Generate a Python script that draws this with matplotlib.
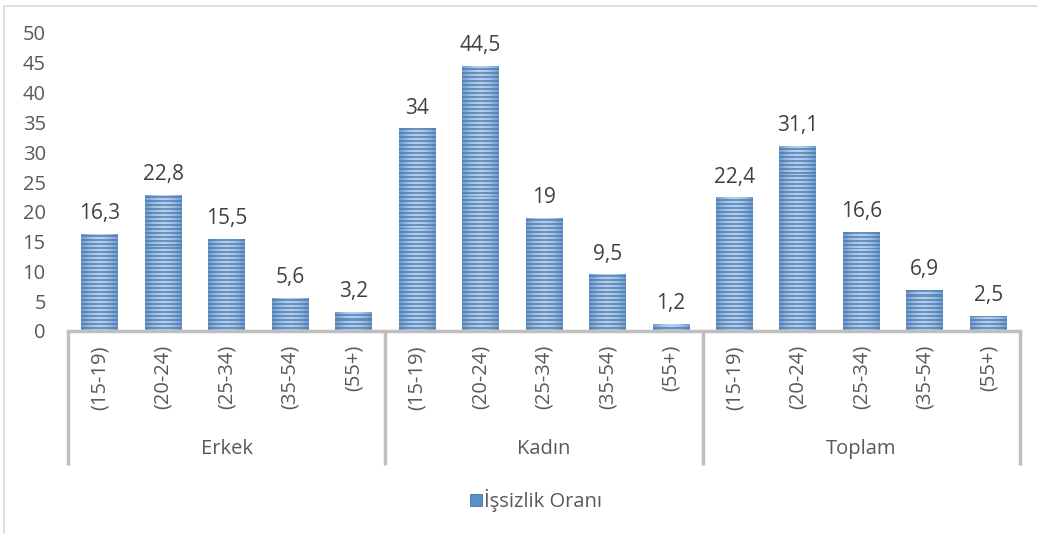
import numpy as np
import matplotlib.pyplot as plt
from matplotlib.patches import Rectangle
import matplotlib.transforms as mtransforms

plt.rcParams['font.family'] = ['Open Sans', 'DejaVu Sans']

groups = ["Erkek", "Kadın", "Toplam"]
age_bands = ["(15-19)", "(20-24)", "(25-34)", "(35-54)", "(55+)"]
erkek = [16.3, 22.8, 15.5, 5.6, 3.2]
kadin = [34, 44.5, 19, 9.5, 1.2]
toplam = [22.4, 31.1, 16.6, 6.9, 2.5]
series_name = "İşsizlik Oranı"

values = erkek + kadin + toplam
labels = age_bands * len(groups)
x = np.arange(len(values))


def stripe_pattern(rows=300, cols=40):
    # horizontal stripes with a light band through the middle of the bar
    col = np.linspace(-1, 1, cols)
    shade = 1 - 0.55 * np.abs(col) ** 1.6
    dark = np.array([0.24, 0.45, 0.68])
    light = np.array([0.80, 0.88, 0.97])
    img = np.zeros((rows, cols, 3))
    for r in range(rows):
        k = 0.3 if r % 4 in (0, 1) else 0.85
        mix = k * shade
        img[r] = dark[None, :] * (1 - mix[:, None]) + light[None, :] * mix[:, None]
    return img


fig = plt.figure(figsize=(10.37, 5.34), dpi=100)
ax = fig.add_axes([68 / 1037, (534 - 331) / 534, (1020 - 68) / 1037, 298 / 534])

width = 0.58
bars = ax.bar(x, values, width=width, color="#5b8fc9", edgecolor="none")
pattern = stripe_pattern()
for b in bars:
    im = ax.imshow(pattern, extent=(b.get_x(), b.get_x() + width, 0, 50),
                   aspect='auto', interpolation='nearest', zorder=2)
    im.set_clip_path(b)

for xi, v in zip(x, values):
    txt = f"{v:g}".replace(".", ",")
    ax.annotate(txt, (xi, v), xytext=(0, 7), textcoords="offset points",
                ha="center", va="bottom", fontsize=15, color="#404040")

ax.set_xlim(-0.5, len(values) - 0.5)
ax.set_ylim(0, 50)
ax.set_yticks(range(0, 51, 5))
ax.tick_params(axis="y", length=0, pad=16, labelsize=14.5, labelcolor="#595959")
ax.set_xticks([])
for s in ["top", "right", "left"]:
    ax.spines[s].set_visible(False)
ax.spines["bottom"].set_color("#bfbfbf")
ax.spines["bottom"].set_linewidth(2.5)

trans = mtransforms.blended_transform_factory(ax.transData, ax.transAxes)
px = 1 / 298
for xi, lab in zip(x, labels):
    ax.text(xi, -14 * px, lab, transform=trans, rotation=90, ha="center",
            va="top", fontsize=14.5, color="#595959")

for i in range(len(groups) + 1):
    ax.plot([i * 5 - 0.5] * 2, [0, -134 * px], transform=trans, color="#bfbfbf",
            lw=2.5, clip_on=False, solid_capstyle="butt")
for i, g in enumerate(groups):
    ax.text(i * 5 + 2, -118 * px, g, transform=trans, ha="center", va="center",
            fontsize=14.5, color="#595959")

# legend
fig.patches.append(Rectangle((470 / 1037, (534 - 506) / 534), 12 / 1037, 12 / 534,
                             transform=fig.transFigure, facecolor="#5b8fc9",
                             edgecolor="#3f74ad", lw=0.6))
fig.text(484 / 1037, (534 - 500) / 534, series_name, ha="left", va="center",
         fontsize=14.5, color="#595959")

# chart area border
fig.patches.append(Rectangle((4 / 1037, -0.1), 1.2, (534 - 6) / 534 + 0.1,
                             transform=fig.transFigure, facecolor="none",
                             edgecolor="#d9d9d9", lw=1.2))

fig.savefig("out.png", dpi=100)
